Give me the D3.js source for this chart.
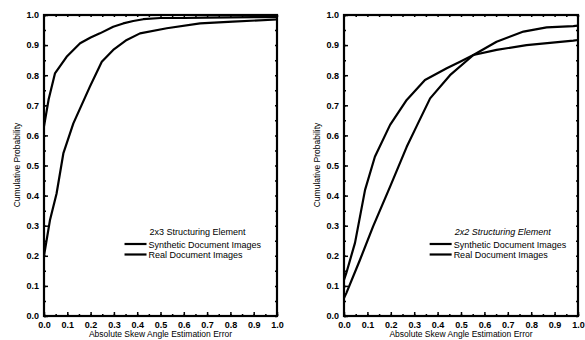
<!DOCTYPE html>
<html>
<head>
<meta charset="UTF-8">
<script src="https://d3js.org/d3.v7.min.js"></script>
<style>
  body { margin: 0; background: #fff; }
  svg text { font-family: "Liberation Sans", Arial, sans-serif; fill: #000; }
</style>
</head>
<body>
<svg id="chart" width="585" height="340"></svg>
<script>
// tick values shared by both panels
var tickVals = [0, 0.1, 0.2, 0.3, 0.4, 0.5, 0.6, 0.7, 0.8, 0.9, 1.0];
var minorVals = d3.range(0, 1.0001, 0.05);

// left panel (2x3 structuring element)
var leftSynthX = [0, 0.02, 0.047, 0.097, 0.155, 0.2, 0.24, 0.297, 0.34, 0.383, 0.426, 0.5, 0.6, 0.7, 0.8, 0.9, 1.0];
var leftSynthY = [0.63, 0.72, 0.806, 0.861, 0.906, 0.925, 0.939, 0.961, 0.972, 0.98, 0.986, 0.99, 0.99, 0.991, 0.992, 0.993, 0.993];
var leftRealX = [0, 0.026, 0.054, 0.083, 0.126, 0.197, 0.248, 0.297, 0.355, 0.412, 0.527, 0.67, 0.81, 1.0];
var leftRealY = [0.2, 0.32, 0.407, 0.54, 0.64, 0.762, 0.845, 0.884, 0.917, 0.939, 0.956, 0.972, 0.978, 0.985];

// right panel (2x2 structuring element)
var rightSynthX = [0, 0.01, 0.047, 0.09, 0.132, 0.197, 0.268, 0.346, 0.439, 0.496, 0.553, 0.652, 0.78, 0.98, 1.0];
var rightSynthY = [0.12, 0.143, 0.243, 0.419, 0.529, 0.635, 0.718, 0.784, 0.823, 0.845, 0.867, 0.884, 0.9, 0.915, 0.917];
var rightRealX = [0, 0.01, 0.068, 0.124, 0.197, 0.268, 0.31, 0.368, 0.453, 0.553, 0.652, 0.767, 0.866, 0.98, 1.0];
var rightRealY = [0.06, 0.076, 0.186, 0.297, 0.43, 0.562, 0.63, 0.723, 0.8, 0.867, 0.911, 0.945, 0.959, 0.963, 0.965];

var seriesNames = ["Synthetic Document Images", "Real Document Images"];

var svg = d3.select("#chart");

function zip(xs, ys) {
  return xs.map(function(x, i) { return [x, ys[i]]; });
}

function drawPanel(o) {
  var x = d3.scaleLinear().domain([0, 1]).range([o.x0, o.x1]);
  var y = d3.scaleLinear().domain([0, 1]).range([316, 15]);
  var g = svg.append("g");

  // minor ticks inward on all sides
  [[d3.axisBottom(x), "translate(0,316)", -2], [d3.axisTop(x), "translate(0,15)", -2],
   [d3.axisLeft(y), "translate(" + o.x0 + ",0)", -2], [d3.axisRight(y), "translate(" + o.x1 + ",0)", -2]]
    .forEach(function(a) {
      g.append("g").attr("transform", a[1])
        .call(a[0].tickValues(minorVals).tickSize(a[2]).tickFormat(""))
        .call(function(s) { s.select(".domain").remove(); s.selectAll("line").attr("stroke", "#000").attr("stroke-width", 1.5); });
    });

  // labelled axes
  g.append("g").attr("transform", "translate(0,316)")
    .call(d3.axisBottom(x).tickValues(tickVals).tickSize(-4).tickPadding(6).tickFormat(d3.format(".1f")))
    .call(function(s) {
      s.select(".domain").remove();
      s.selectAll("line").attr("stroke", "#000").attr("stroke-width", 1.5);
      s.selectAll("text").style("font-size", "9px").style("font-weight", "bold");
    });
  g.append("g").attr("transform", "translate(" + o.x0 + ",0)")
    .call(d3.axisLeft(y).tickValues(tickVals).tickSize(-4).tickPadding(5).tickFormat(d3.format(".1f")))
    .call(function(s) {
      s.select(".domain").remove();
      s.selectAll("line").attr("stroke", "#000").attr("stroke-width", 1.5);
      s.selectAll("text").style("font-size", "9px").style("font-weight", "bold");
    });

  // frame
  g.append("rect")
    .attr("x", o.x0).attr("y", 15)
    .attr("width", o.x1 - o.x0).attr("height", 301)
    .attr("fill", "none").attr("stroke", "#000").attr("stroke-width", 2.2);

  // curves
  var line = d3.line().x(function(d) { return x(d[0]); }).y(function(d) { return y(d[1]); });
  o.series.forEach(function(s) {
    g.append("path").datum(s)
      .attr("d", line)
      .attr("fill", "none").attr("stroke", "#000").attr("stroke-width", 2.2)
      .attr("stroke-linejoin", "round");
  });

  // axis titles
  g.append("text")
    .attr("x", (o.x0 + o.x1) / 2).attr("y", 337)
    .attr("text-anchor", "middle")
    .style("font-size", "8.5px")
    .text("Absolute Skew Angle Estimation Error");
  g.append("text")
    .attr("transform", "translate(" + (o.x0 - 24) + "," + 165 + ") rotate(-90)")
    .attr("text-anchor", "middle")
    .style("font-size", "8.5px")
    .text("Cumulative Probability");

  // legend
  var lx = x(o.legendX);
  g.append("text")
    .attr("x", lx + 3).attr("y", 235)
    .style("font-size", "9px")
    .style("font-style", o.italic ? "italic" : "normal")
    .text(o.title);
  seriesNames.forEach(function(name, i) {
    var ly = 244 + i * 10.5;
    g.append("line")
      .attr("x1", lx - 22).attr("x2", lx)
      .attr("y1", ly).attr("y2", ly)
      .attr("stroke", "#000").attr("stroke-width", 2.2);
    g.append("text")
      .attr("x", lx + 2).attr("y", ly + 3.5)
      .style("font-size", "9px")
      .text(name);
  });
}

drawPanel({
  x0: 44, x1: 277,
  series: [zip(leftSynthX, leftSynthY), zip(leftRealX, leftRealY)],
  title: "2x3 Structuring Element",
  legendX: 0.44,
  italic: false
});

drawPanel({
  x0: 344, x1: 578,
  series: [zip(rightSynthX, rightSynthY), zip(rightRealX, rightRealY)],
  title: "2x2 Structuring Element",
  legendX: 0.46,
  italic: true
});
</script>
</body>
</html>
